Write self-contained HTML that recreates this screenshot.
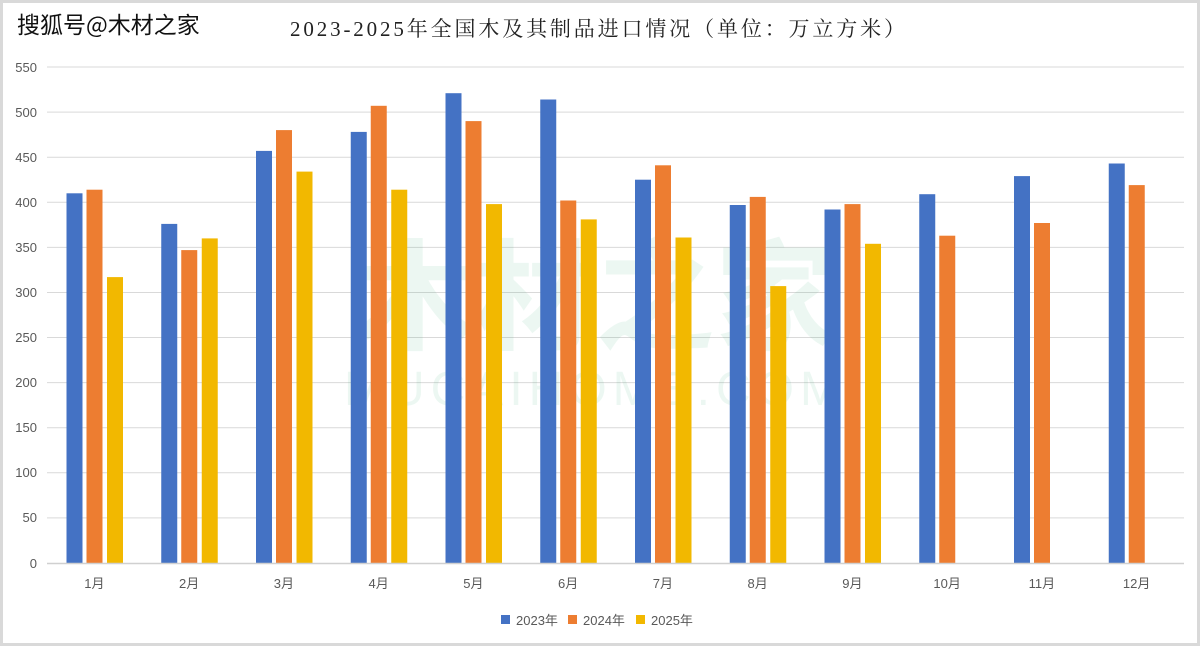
<!DOCTYPE html>
<html><head><meta charset="utf-8"><style>
html,body{margin:0;padding:0;background:#fff;}
svg{display:block;}
</style></head><body>
<svg width="1200" height="646" xmlns="http://www.w3.org/2000/svg" font-family="Liberation Sans, Noto Sans CJK SC, sans-serif">
<rect x="1.5" y="1.5" width="1197" height="643" fill="#fff" stroke="#d9d9d9" stroke-width="3"/>
<text x="17" y="33" font-size="23" fill="#111" font-family="Noto Sans CJK SC, sans-serif">搜狐号@木材之家</text>
<text x="290" y="36" font-size="21" fill="#222" textLength="615" lengthAdjust="spacing" font-family="Liberation Serif, Noto Serif CJK SC, serif">2023-2025年全国木及其制品进口情况（单位：万立方米）</text>
<g stroke="#d9d9d9" stroke-width="1">
<line x1="47" x2="1184" y1="67" y2="67"/><line x1="47" x2="1184" y1="112.1" y2="112.1"/>
<line x1="47" x2="1184" y1="157.2" y2="157.2"/><line x1="47" x2="1184" y1="202.3" y2="202.3"/>
<line x1="47" x2="1184" y1="247.4" y2="247.4"/><line x1="47" x2="1184" y1="292.5" y2="292.5"/>
<line x1="47" x2="1184" y1="337.5" y2="337.5"/><line x1="47" x2="1184" y1="382.6" y2="382.6"/>
<line x1="47" x2="1184" y1="427.7" y2="427.7"/><line x1="47" x2="1184" y1="472.8" y2="472.8"/>
<line x1="47" x2="1184" y1="517.9" y2="517.9"/>
</g>
<g font-size="13" fill="#595959" text-anchor="end">
<text x="37" y="72">550</text><text x="37" y="117">500</text><text x="37" y="162">450</text>
<text x="37" y="207">400</text><text x="37" y="252">350</text><text x="37" y="297">300</text>
<text x="37" y="342">250</text><text x="37" y="387">200</text><text x="37" y="432">150</text>
<text x="37" y="477">100</text><text x="37" y="522">50</text><text x="37" y="568">0</text>
</g>
<g opacity="0.08" fill="#1aa866" text-anchor="middle">
<text x="595" y="340" font-size="120" font-family="Noto Sans CJK SC, sans-serif" font-weight="bold">木材之家</text>
<text x="595" y="405" font-size="48" letter-spacing="6">MUCAIHOME.COM</text>
</g>
<g fill="#4472c4">
<rect x="66.5" y="193.3" width="16" height="369.7"/><rect x="161.25" y="223.9" width="16" height="339.1"/>
<rect x="256" y="150.9" width="16" height="412.1"/><rect x="350.75" y="131.9" width="16" height="431.1"/>
<rect x="445.5" y="93.2" width="16" height="469.8"/><rect x="540.25" y="99.5" width="16" height="463.5"/>
<rect x="635" y="179.7" width="16" height="383.3"/><rect x="729.75" y="205" width="16" height="358"/>
<rect x="824.5" y="209.5" width="16" height="353.5"/><rect x="919.25" y="194.2" width="16" height="368.8"/>
<rect x="1014" y="176.1" width="16" height="386.9"/><rect x="1108.75" y="163.5" width="16" height="399.5"/>
</g>
<g fill="#ed7d31">
<rect x="86.5" y="189.7" width="16" height="373.3"/><rect x="181.25" y="250.1" width="16" height="312.9"/>
<rect x="276" y="130.1" width="16" height="432.9"/><rect x="370.75" y="105.8" width="16" height="457.2"/>
<rect x="465.5" y="121.1" width="16" height="441.9"/><rect x="560.25" y="200.5" width="16" height="362.5"/>
<rect x="655" y="165.3" width="16" height="397.7"/><rect x="749.75" y="196.9" width="16" height="366.1"/>
<rect x="844.5" y="204.1" width="16" height="358.9"/><rect x="939.25" y="235.7" width="16" height="327.3"/>
<rect x="1034" y="223" width="16" height="340"/><rect x="1128.75" y="185.1" width="16" height="377.9"/>
</g>
<g fill="#f2b800">
<rect x="107" y="277.1" width="16" height="285.9"/><rect x="201.75" y="238.4" width="16" height="324.6"/>
<rect x="296.5" y="171.6" width="16" height="391.4"/><rect x="391.25" y="189.7" width="16" height="373.3"/>
<rect x="486" y="204.1" width="16" height="358.9"/><rect x="580.75" y="219.4" width="16" height="343.6"/>
<rect x="675.5" y="237.5" width="16" height="325.5"/><rect x="770.25" y="286.1" width="16" height="276.9"/>
<rect x="865" y="243.8" width="16" height="319.2"/>
</g>
<line x1="47" x2="1184" y1="563.5" y2="563.5" stroke="#d0d0d0" stroke-width="1.5"/>
<g font-size="13" fill="#595959" text-anchor="middle">
<text x="94.4" y="588">1月</text><text x="189.1" y="588">2月</text><text x="283.9" y="588">3月</text>
<text x="378.6" y="588">4月</text><text x="473.4" y="588">5月</text><text x="568.1" y="588">6月</text>
<text x="662.9" y="588">7月</text><text x="757.6" y="588">8月</text><text x="852.4" y="588">9月</text>
<text x="947.1" y="588">10月</text><text x="1041.9" y="588">11月</text><text x="1136.6" y="588">12月</text>
</g>
<g font-size="13" fill="#595959">
<rect x="501" y="615" width="9" height="9" fill="#4472c4"/><text x="516" y="625">2023年</text>
<rect x="568" y="615" width="9" height="9" fill="#ed7d31"/><text x="583" y="625">2024年</text>
<rect x="636" y="615" width="9" height="9" fill="#f2b800"/><text x="651" y="625">2025年</text>
</g>
</svg>
</body></html>
